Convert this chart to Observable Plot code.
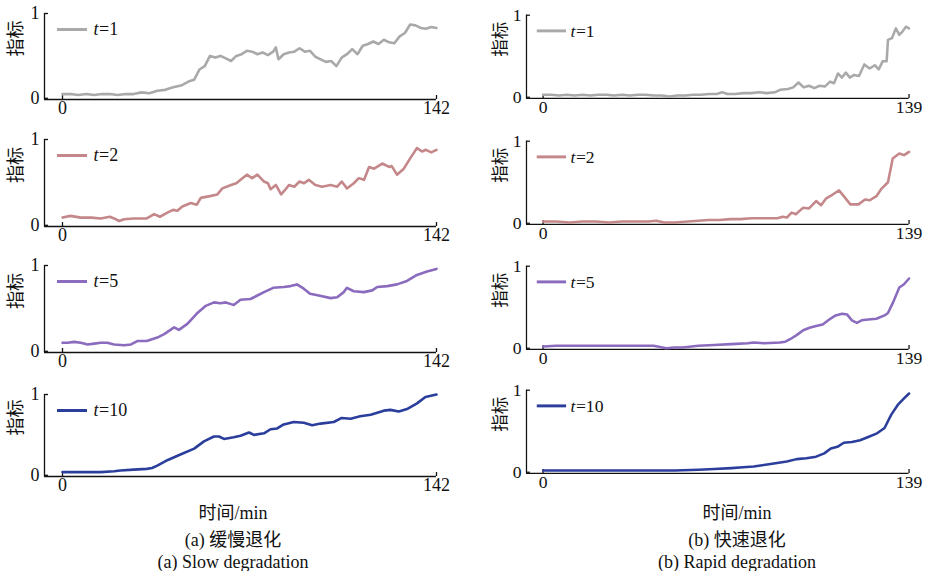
<!DOCTYPE html>
<html><head><meta charset="utf-8">
<script src="https://cdn.jsdelivr.net/npm/d3@7"></script>
<script src="https://cdn.jsdelivr.net/npm/@observablehq/plot@0.6"></script>
<style>
body{margin:0;background:#fff;}
#root{position:relative;width:934px;height:571px;overflow:hidden;font-family:"Liberation Serif","Noto Sans CJK SC",serif;color:#111;}
.panel{position:absolute;}
.cap{position:absolute;width:400px;text-align:center;font-size:18px;line-height:20px;white-space:nowrap;}
</style></head><body><div id="root"></div>
<script>
// ---- data ----
const seriesLabels = ["1", "2", "5", "10"];
const seriesColors = ["#a9a9a9", "#c4878a", "#8b6bbd", "#2b3e9c"];
const slowXMax = 142, rapidXMax = 139;
const yTicks = [0, 1];
const yLabel = "指标";
const xTitle = "时间/min";
const captions = [["(a) 缓慢退化", "(a) Slow degradation"], ["(b) 快速退化", "(b) Rapid degradation"]];

const slowT1 = [[0,0.05],[3,0.05],[6,0.04],[9,0.05],[12,0.04],[15,0.05],[18,0.05],[21,0.04],[24,0.05],[27,0.05],[30,0.07],[33,0.06],[36,0.09],[39,0.10],[42,0.13],[45,0.15],[48,0.20],[50,0.22],[52,0.34],[54,0.38],[56,0.50],[58,0.48],[60,0.50],[62,0.47],[64,0.44],[66,0.50],[68,0.52],[70,0.56],[72,0.55],[74,0.52],[76,0.54],[78,0.51],[80,0.55],[81,0.60],[82,0.46],[84,0.52],[86,0.54],[88,0.55],[90,0.59],[92,0.55],[94,0.56],[96,0.49],[98,0.46],[100,0.43],[102,0.44],[104,0.38],[106,0.48],[108,0.52],[110,0.58],[112,0.52],[114,0.62],[116,0.64],[118,0.67],[120,0.64],[122,0.69],[124,0.66],[126,0.65],[128,0.73],[130,0.77],[132,0.87],[134,0.86],[136,0.83],[138,0.82],[140,0.84],[142,0.83]];
const slowT2 = [[0,0.09],[3,0.11],[7,0.09],[11,0.09],[14.5,0.08],[18,0.10],[19.6,0.08],[21.5,0.05],[23.4,0.07],[27,0.08],[32,0.08],[34.8,0.13],[37,0.10],[40,0.15],[42,0.18],[43.6,0.17],[45.5,0.22],[48.7,0.26],[51,0.24],[52.5,0.32],[56,0.34],[58.8,0.36],[60.7,0.43],[64,0.47],[66,0.49],[67.6,0.53],[70,0.59],[72,0.55],[74,0.59],[76.5,0.51],[78,0.49],[79,0.42],[81,0.47],[83,0.36],[84.7,0.42],[86,0.47],[88,0.45],[90,0.51],[91.7,0.49],[93.5,0.53],[96,0.47],[98.6,0.45],[101.8,0.47],[104.3,0.45],[106,0.51],[108,0.43],[110.6,0.49],[112.5,0.55],[114.5,0.53],[116.4,0.68],[118.3,0.66],[121.4,0.72],[124,0.68],[125,0.69],[127,0.59],[129.6,0.66],[132,0.78],[134.6,0.90],[136.5,0.86],[138,0.88],[140,0.85],[142,0.88]];
const slowT5 = [[0,0.10],[2,0.10],[4.4,0.11],[7,0.10],[9.5,0.08],[12,0.09],[14.5,0.10],[17,0.10],[19.6,0.08],[23.4,0.07],[26,0.08],[28.4,0.12],[32,0.12],[36,0.16],[38.6,0.20],[41,0.25],[42.4,0.28],[44.2,0.25],[47.4,0.32],[51,0.44],[54.4,0.53],[57.5,0.57],[60,0.56],[62,0.57],[64,0.55],[65,0.54],[67.6,0.60],[71.4,0.61],[74,0.65],[76.5,0.69],[80,0.74],[84,0.75],[86.6,0.76],[89,0.78],[91.6,0.73],[94,0.67],[97.3,0.65],[101.8,0.62],[104.3,0.63],[106.8,0.69],[108,0.74],[110.6,0.70],[114.4,0.69],[117.6,0.71],[119.5,0.75],[123.3,0.76],[127,0.78],[130.8,0.82],[134.6,0.89],[138.4,0.93],[142,0.96]];
const slowT10 = [[0,0.04],[7,0.04],[14.5,0.04],[19.6,0.05],[22,0.06],[27,0.07],[32,0.08],[34,0.09],[36,0.12],[40,0.19],[45,0.26],[50,0.33],[53.7,0.42],[57.5,0.48],[59.4,0.48],[61.3,0.45],[65,0.47],[67.6,0.49],[70.8,0.53],[72.7,0.50],[76.5,0.52],[79,0.57],[81.5,0.58],[84,0.63],[87.8,0.66],[91.6,0.65],[94.8,0.62],[98,0.64],[103,0.66],[106,0.71],[109.4,0.70],[113,0.73],[117,0.75],[122,0.80],[124.5,0.81],[127.7,0.79],[130.8,0.82],[134.6,0.89],[137.8,0.97],[142,1.00]];

const rapidT1 = [[0,0.03],[3,0.03],[6,0.02],[9,0.03],[12,0.02],[15,0.03],[18,0.02],[21,0.03],[24,0.03],[27,0.02],[30,0.03],[33,0.02],[36,0.03],[39,0.03],[42,0.02],[45,0.02],[48,0.01],[51,0.02],[54,0.02],[57,0.03],[60,0.03],[63,0.04],[66,0.04],[68,0.06],[70,0.04],[73,0.04],[76,0.05],[79,0.05],[82,0.06],[85,0.05],[88,0.06],[90,0.09],[93,0.10],[95,0.12],[97,0.18],[99,0.12],[101,0.14],[103,0.11],[105,0.14],[107,0.13],[109,0.19],[110.5,0.17],[112,0.29],[113.5,0.24],[115,0.30],[116.5,0.24],[118,0.27],[120,0.26],[122,0.40],[124,0.35],[126,0.39],[127.5,0.34],[129,0.44],[130.5,0.44],[131,0.70],[132.5,0.72],[134,0.84],[135.3,0.76],[136.5,0.80],[137.8,0.86],[139,0.84]];
const rapidT2 = [[0,0.02],[5,0.02],[10,0.01],[15,0.02],[20,0.02],[25,0.01],[30,0.02],[35,0.02],[40,0.02],[43,0.03],[46,0.01],[50,0.01],[55,0.02],[59,0.03],[63,0.04],[67,0.04],[71,0.05],[75,0.05],[79,0.06],[83,0.06],[86,0.06],[89,0.06],[91,0.08],[92.6,0.07],[94.4,0.13],[96,0.11],[98.8,0.19],[101,0.18],[103.7,0.27],[105.6,0.22],[107.4,0.30],[110,0.35],[112.4,0.40],[114.2,0.33],[116.7,0.23],[119.8,0.23],[122.3,0.29],[124.1,0.28],[126.6,0.33],[128.5,0.42],[131,0.50],[132.8,0.79],[135.3,0.85],[137.1,0.83],[139,0.87]];
const rapidT5 = [[0,0.02],[5,0.03],[10,0.03],[15,0.03],[20,0.03],[25,0.03],[30,0.03],[35,0.03],[40,0.03],[42,0.03],[46.8,0.00],[50,0.01],[53,0.01],[59,0.03],[65,0.04],[71.5,0.05],[77.7,0.06],[80,0.07],[84,0.06],[90,0.07],[92,0.08],[93.8,0.11],[96.3,0.16],[98.8,0.22],[101.2,0.25],[103.7,0.27],[106.2,0.29],[108.7,0.35],[111.1,0.40],[113.6,0.42],[115.5,0.41],[117.3,0.34],[119.2,0.31],[121,0.34],[123.5,0.35],[126.6,0.36],[129.7,0.40],[131,0.43],[132.8,0.55],[135.3,0.74],[137.1,0.78],[139,0.85]];
const rapidT10 = [[0,0.02],[10,0.02],[20,0.02],[30,0.02],[40,0.02],[50,0.02],[59,0.03],[65,0.04],[71.5,0.05],[76,0.06],[80,0.07],[86.4,0.10],[92.6,0.13],[96.3,0.16],[100,0.17],[103.7,0.19],[106.8,0.23],[109.3,0.29],[111.8,0.31],[114.2,0.36],[117.3,0.37],[120.4,0.39],[123.5,0.43],[126.6,0.47],[129.7,0.54],[132.2,0.70],[134.7,0.82],[137.1,0.90],[139,0.96]];

const slowSeries = [slowT1, slowT2, slowT5, slowT10];
const rapidSeries = [rapidT1, rapidT2, rapidT5, rapidT10];

// ---- layout ----
const root = document.getElementById("root");
const serif = "Liberation Serif";
const cjk = "Noto Sans CJK SC";
const cols = [
  {series: slowSeries, xmax: slowXMax, left: 0, width: 460, ml: 44, mr: 24, zeroPx: 62,
   tops: [13, 139, 265, 394], axes: [99, 226, 352, 476], legInset: 13, legText: 49, yLabDx: -28.5},
  {series: rapidSeries, xmax: rapidXMax, left: 480, width: 464, ml: 47, mr: 26, zeroPx: 544,
   tops: [15, 141, 266, 390], axes: [100, 226, 351, 475], legInset: 11, legText: 45, yLabDx: -27}
];

cols.forEach(col => {
  const axisPx = col.left + col.ml;
  const endPx = col.left + col.width - col.mr;
  const plotW = endPx - axisPx;
  const xmin = -(col.zeroPx - axisPx) / (endPx - col.zeroPx) * col.xmax;
  col.series.forEach((data, i) => {
    const mt = 12, mb = 26;
    const plotH = col.axes[i] - col.tops[i];
    const ymin = -1.2 / plotH;
    const color = seriesColors[i];
    const chart = Plot.plot({
      width: col.width, height: mt + plotH + mb,
      marginLeft: col.ml, marginRight: col.mr, marginTop: mt, marginBottom: mb,
      x: {domain: [xmin, col.xmax]},
      y: {domain: [ymin, 1]},
      style: {overflow: "visible", background: "transparent", color: "#111"},
      marks: [
        Plot.ruleX([xmin], {stroke: "#111", strokeWidth: 1.3}),
        Plot.ruleY([ymin], {stroke: "#111", strokeWidth: 1.3}),
        Plot.ruleY(yTicks, {y: d => d, insetRight: plotW - 4, stroke: "#111", strokeWidth: 1.3}),
        Plot.ruleX([0, col.xmax], {x: d => d, insetTop: plotH - 4, stroke: "#111", strokeWidth: 1.3}),
        Plot.axisY({ticks: yTicks, tickFormat: d => String(d), tickSize: 0, tickPadding: 5, fontSize: 18, fontFamily: serif, label: null}),
        Plot.axisX({ticks: [0, col.xmax], tickFormat: d => String(d), tickSize: 0, tickPadding: 2, fontSize: 18, fontFamily: serif, label: null}),
        Plot.text([yLabel], {frameAnchor: "left", rotate: -90, dx: col.yLabDx, fontSize: 18, fontFamily: cjk, fill: "#111"}),
        Plot.line(data, {x: d => d[0], y: d => d[1], stroke: color, strokeWidth: 2.6, strokeLinejoin: "round"}),
        Plot.ruleY([1], {dy: 16, insetLeft: col.legInset, insetRight: plotW - col.legInset - 30, stroke: color, strokeWidth: 3}),
        Plot.text(["t"], {frameAnchor: "top-left", dx: col.legText, dy: 16, textAnchor: "start", lineAnchor: "middle", fontSize: 18, fontFamily: serif, fontStyle: "italic", fill: "#111"}),
        Plot.text(["=" + seriesLabels[i]], {frameAnchor: "top-left", dx: col.legText + 5.5, dy: 16, textAnchor: "start", lineAnchor: "middle", fontSize: 18, fontFamily: serif, fill: "#111"})
      ]
    });
    const div = document.createElement("div");
    div.className = "panel";
    div.style.left = col.left + "px";
    div.style.top = (col.tops[i] - mt) + "px";
    div.appendChild(chart);
    root.appendChild(div);
  });
});

// captions
const capCenters = [233, 737];
const capTops = [503, 530, 552];
capCenters.forEach((cx, j) => {
  [xTitle, captions[j][0], captions[j][1]].forEach((t, k) => {
    const d = document.createElement("div");
    d.className = "cap";
    d.style.left = (cx - 200) + "px";
    d.style.top = capTops[k] + "px";
    d.textContent = t;
    root.appendChild(d);
  });
});
</script></body></html>
